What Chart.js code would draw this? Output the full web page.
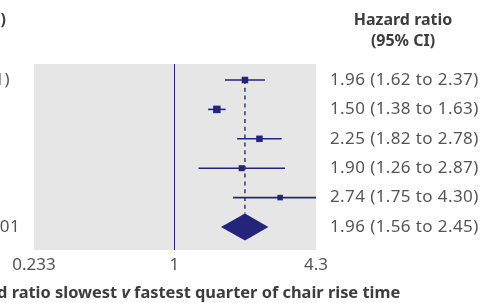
<!DOCTYPE html>
<html>
<head>
<meta charset="utf-8">
<script src="https://cdn.jsdelivr.net/npm/chart.js@4/dist/chart.umd.min.js"></script>
<style>
  html, body { margin: 0; padding: 0; background: #fff; }
  #wrap { width: 480px; height: 303px; position: relative; }
</style>
</head>
<body>
<div id="wrap"><canvas id="forest"></canvas></div>
<script>
// hazard ratios, slowest v fastest quarter of chair rise time
// (last row is the pooled estimate, drawn as a diamond)
var hr    = [1.96, 1.50, 2.25, 1.90, 2.74, 1.96];
var lower = [1.62, 1.38, 1.82, 1.26, 1.75, 1.56];
var upper = [2.37, 1.63, 2.78, 2.87, 4.30, 2.45];

// tick labels as printed under the axis
var tickLabels = ['0.233', '1', '4.3'];

// left column text, cut off at the edge of the picture
var leftHeader = ')';
var leftRows = ['1)', '', '', '', '', '01'];

var headerLines = ['Hazard ratio', '(95% CI)'];
var axisTitle = ['Hazard ratio slowest ', 'v', ' fastest quarter of chair rise time'];

// styles
var navy = '#24247a';
var markerSide = [6.5, 7.5, 6.5, 6, 5.5];
var fontFam = '"Noto Sans", sans-serif';

function fmt(v) { return v.toFixed(2); }

var nStudies = hr.length - 1;
var points = [];
for (var i = 0; i < nStudies; i++) {
    points.push({ x: hr[i], y: i });
}

// draws background, reference lines, CIs, diamond and side texts
var forestPlugin = {
    id: 'forest',
    beforeDatasetsDraw: function(chart) {
        var ctx = chart.ctx;
        var a = chart.chartArea;
        var xs = chart.scales.x, ys = chart.scales.y;
        ctx.save();
        ctx.fillStyle = '#e6e6e6';
        ctx.fillRect(a.left, a.top, a.right - a.left, a.bottom - a.top);

        // line of no effect
        var x1 = Math.round(xs.getPixelForValue(1)) + 0.5;
        ctx.strokeStyle = navy;
        ctx.lineWidth = 1;
        ctx.beginPath();
        ctx.moveTo(x1, a.top);
        ctx.lineTo(x1, a.bottom);
        ctx.stroke();

        ctx.beginPath();
        ctx.rect(a.left, a.top, a.right - a.left, a.bottom - a.top);
        ctx.clip();

        // dashed line at the pooled estimate
        var last = hr.length - 1;
        var xp = xs.getPixelForValue(hr[last]);
        var yc = ys.getPixelForValue(last);
        var halfH = 13.5;
        ctx.setLineDash([4, 3.8]);
        ctx.lineWidth = 1.5;
        ctx.strokeStyle = '#33338a';
        ctx.beginPath();
        ctx.moveTo(xp, ys.getPixelForValue(0));
        ctx.lineTo(xp, yc - halfH);
        ctx.stroke();
        ctx.setLineDash([]);

        // confidence intervals
        ctx.strokeStyle = navy;
        ctx.lineWidth = 1.6;
        for (var i = 0; i < nStudies; i++) {
            var y = ys.getPixelForValue(i);
            ctx.beginPath();
            ctx.moveTo(xs.getPixelForValue(lower[i]), y);
            ctx.lineTo(xs.getPixelForValue(upper[i]), y);
            ctx.stroke();
        }

        // pooled diamond
        ctx.fillStyle = navy;
        ctx.beginPath();
        ctx.moveTo(xs.getPixelForValue(lower[last]), yc);
        ctx.lineTo(xp, yc - halfH);
        ctx.lineTo(xs.getPixelForValue(upper[last]), yc);
        ctx.lineTo(xp, yc + halfH);
        ctx.closePath();
        ctx.fill();
        ctx.restore();
    },
    afterDraw: function(chart) {
        var ctx = chart.ctx;
        var a = chart.chartArea;
        var ys = chart.scales.y;
        ctx.save();
        ctx.textBaseline = 'middle';

        // right column header
        ctx.fillStyle = '#3d3d3d';
        ctx.font = 'bold 16px ' + fontFam;
        ctx.textAlign = 'center';
        ctx.fillText(headerLines[0], 403, 20);
        ctx.fillText(headerLines[1], 403, 41);

        // left header fragment
        ctx.textAlign = 'right';
        ctx.fillText(leftHeader, 6, 20);

        // hazard ratio texts
        ctx.font = '17px ' + fontFam;
        ctx.letterSpacing = '0.4px';
        ctx.fillStyle = '#555555';
        ctx.textAlign = 'left';
        for (var i = 0; i < hr.length; i++) {
            var y = ys.getPixelForValue(i);
            ctx.fillText(fmt(hr[i]) + ' (' + fmt(lower[i]) + ' to ' + fmt(upper[i]) + ')', 330, y);
        }
        ctx.textAlign = 'right';
        for (var j = 0; j < leftRows.length; j++) {
            if (leftRows[j]) ctx.fillText(leftRows[j], j === 0 ? 10 : 20, ys.getPixelForValue(j));
        }
        ctx.letterSpacing = '0px';

        // axis title with italic v
        ctx.fillStyle = '#3d3d3d';
        var fb = 'bold 16.4px ' + fontFam, fi = 'italic bold 16.4px ' + fontFam;
        ctx.font = fb;
        var w0 = ctx.measureText(axisTitle[0]).width;
        var w2 = ctx.measureText(axisTitle[2]).width;
        ctx.font = fi;
        var w1 = ctx.measureText(axisTitle[1]).width;
        var cx = (a.left + a.right) / 2;
        var x = cx - (w0 + w1 + w2) / 2;
        ctx.textAlign = 'left';
        ctx.font = fb;
        ctx.fillText(axisTitle[0], x, 293);
        ctx.font = fi;
        ctx.fillText(axisTitle[1], x + w0, 293);
        ctx.font = fb;
        ctx.fillText(axisTitle[2], x + w0 + w1, 293);
        ctx.restore();
    }
};

var axisMin = 0.263, axisMax = 3.855;

var ctx = document.getElementById('forest').getContext('2d');
new Chart(ctx, {
    type: 'scatter',
    data: {
        datasets: [{
            data: points,
            pointStyle: 'rect',
            pointRadius: markerSide.map(function(s) { return s / Math.SQRT2; }),
            pointHoverRadius: markerSide.map(function(s) { return s / Math.SQRT2; }),
            backgroundColor: navy,
            borderColor: navy,
            borderWidth: 0
        }]
    },
    options: {
        responsive: true,
        maintainAspectRatio: false,
        animation: false,
        events: [],
        layout: { padding: { left: 34, right: 164, top: 64, bottom: 0 } },
        plugins: { legend: { display: false }, tooltip: { enabled: false } },
        scales: {
            x: {
                type: 'logarithmic',
                min: axisMin,
                max: axisMax,
                grid: { display: false, drawTicks: false },
                border: { display: false },
                afterBuildTicks: function(scale) {
                    scale.ticks = [{ value: axisMin }, { value: 1 }, { value: axisMax }];
                },
                afterFit: function(scale) { scale.height = 53; },
                ticks: {
                    autoSkip: false,
                    maxRotation: 0,
                    padding: 5,
                    color: '#555555',
                    font: { family: fontFam, size: 17 },
                    callback: function(v, idx) { return tickLabels[idx]; }
                }
            },
            y: {
                type: 'linear',
                reverse: true,
                min: -0.544,
                max: 5.782,
                display: false
            }
        }
    },
    plugins: [forestPlugin]
});
</script>
</body>
</html>
